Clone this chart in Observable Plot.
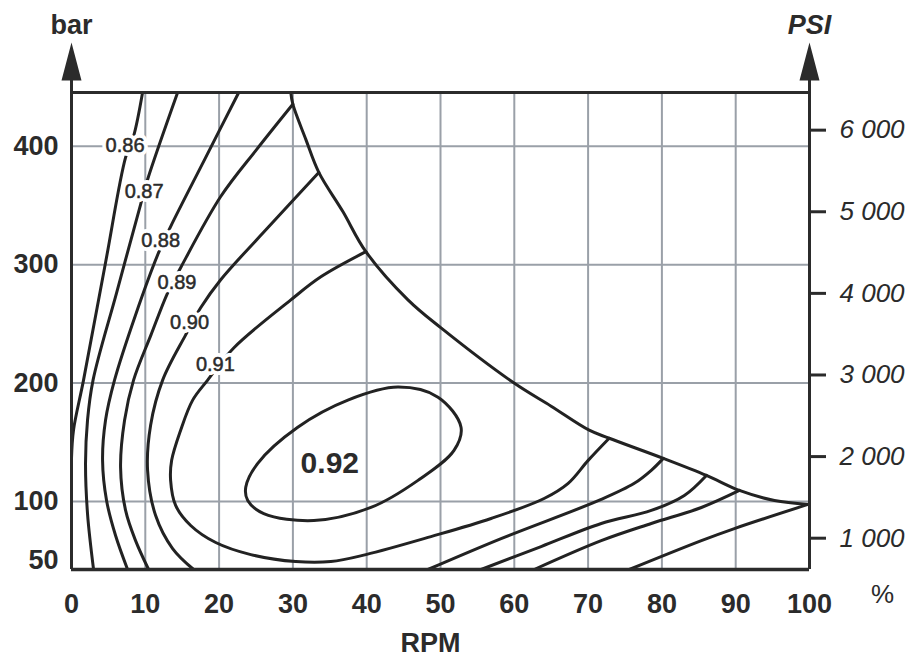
<!DOCTYPE html>
<html>
<head>
<meta charset="utf-8">
<script src="https://cdn.jsdelivr.net/npm/d3@7"></script>
<script src="https://cdn.jsdelivr.net/npm/@observablehq/plot@0.6"></script>
<style>
  html, body { margin: 0; padding: 0; background: #fff; }
</style>
</head>
<body>
<div id="chart"></div>
<script>
// ---------- axes / ticks ----------
const rpmDomain = [0, 100];
const barDomain = [42.5, 445.5];
const rpmTicks = [0, 10, 20, 30, 40, 50, 60, 70, 80, 90, 100];
const rpmGrid = [10, 20, 30, 40, 50, 60, 70, 80, 90];
const barTicks = [50, 100, 200, 300, 400];
const barGrid = [100, 200, 300, 400];
const PSI_PER_BAR = 14.5038;
const psiTicks = [1000, 2000, 3000, 4000, 5000, 6000];
const psiTickLabels = ["1 000", "2 000", "3 000", "4 000", "5 000", "6 000"];

// ---------- efficiency contours: [rpm %, bar] ----------
const c086 = [[9.63,445.5],[8.41,408.5],[7.33,390.7],[4.61,301.7],[1.63,202.5],[0.27,160.2],[0,136.4]];
const c087 = [[14.38,445.5],[10.31,372.0],[9.36,350.8],[6.11,276.3],[2.92,202.5],[2.17,168.6],[1.90,132.2],[2.17,89.8],[2.99,42.5]];
const c088 = [[22.66,445.5],[18.05,389.0],[13.43,332.2],[11.80,310.2],[8.68,257.6],[5.83,202.5],[4.61,168.6],[4.21,134.7],[4.75,100.8],[5.97,71.2],[7.60,42.5]];
const c089 = [[29.99,435.6],[25.10,397.5],[20.22,357.6],[14.79,297.5],[13.03,276.3],[10.77,240.7],[8.41,202.5],[7.19,168.6],[6.65,128.8],[7.33,92.4],[8.68,66.9],[10.45,42.5]];
const c090 = [[33.51,378.0],[27.00,333.9],[20.22,287.3],[17.50,263.6],[15.47,240.7],[12.35,202.5],[10.72,164.4],[10.31,126.3],[11.40,88.1],[13.70,60.2],[16.55,42.5]];
const c091 = [[39.89,311.0],[33.79,289.8],[29.72,270.3],[21.98,229.7],[18.45,202.5],[16.42,185.6],[14.79,160.2],[13.57,134.7],[13.43,117.8],[14.11,96.6],[16.15,79.7],[19.54,65.3],[24.29,55.1],[30.39,49.2],[35.14,49.2],[39.89,55.1],[48.71,70.3],[56.85,85.6],[64.04,102.5],[67.30,115.3],[70.01,134.7],[72.86,153.4]];
const c092 = [[23.61,111.9],[25.24,132.2],[30.66,162.7],[37.45,185.6],[44.23,196.6],[49.66,188.1],[52.78,162.7],[51.83,143.2],[46.95,117.8],[40.57,94.9],[32.84,83.9],[26.05,89.8],[23.88,100.8]];
// high-speed branches ending on the limit curve
const c090b = [[48.30,42.5],[58.21,68.6],[71.78,101.7],[76.26,115.3],[78.56,126.3],[80.19,136.4]];
const c089b = [[55.50,42.5],[63.63,61.9],[71.78,81.4],[78.56,92.4],[83.04,105.1],[86.03,122.0]];
const c088b = [[62.69,42.5],[71.78,66.9],[78.56,81.4],[85.35,94.9],[90.50,109.3]];
const c087b = [[75.58,42.5],[85.35,66.9],[89.82,77.1],[99.8,97.5]];
// operating limit (envelope)
const envelope = [[29.72,445.5],[29.99,435.6],[31.75,405.9],[33.51,378.0],[36.77,344.9],[39.89,311.0],[45.59,270.3],[50.07,246.6],[59.97,200.0],[64.99,180.5],[70.15,160.2],[72.86,153.4],[80.19,136.4],[86.03,122.0],[90.50,109.3],[95.25,100.8],[99.8,97.5]];

// contour labels
const labelText = ["0.86", "0.87", "0.88", "0.89", "0.90", "0.91"];
const labelRpm  = [7.26, 9.84, 12.08, 14.30, 16.00, 19.50];
const labelBar  = [400.4, 361.4, 320.5, 285.2, 251.3, 215.7];
const peakText = ["0.92"];
const peakRpm = [35.0];
const peakBar = [132.2];

// ---------- styling ----------
const ink = "#2b2b2b";
const lineInk = "#222";
const gridInk = "#9aa0a8";
const font = "'Liberation Sans', Arial, Helvetica, sans-serif";

const labels = labelText.map((t, i) => ({t, x: labelRpm[i], y: labelBar[i]}));
const peak = peakText.map((t, i) => ({t, x: peakRpm[i], y: peakBar[i]}));

const arrowShape = {
  draw(ctx, l, r) {
    ctx.moveTo(-1.5, 0);
    ctx.lineTo(-1.5, -12);
    ctx.lineTo(-r, -12);
    ctx.lineTo(0, -l);
    ctx.lineTo(r, -12);
    ctx.lineTo(1.5, -12);
    ctx.lineTo(1.5, 0);
    ctx.closePath();
  }
};

const contourOpts = {stroke: lineInk, strokeWidth: 3, curve: "catmull-rom"};

const chart = Plot.plot({
  width: 917,
  height: 660,
  marginLeft: 71,
  marginRight: 108,
  marginTop: 92,
  marginBottom: 91,
  style: {fontFamily: font, color: ink, background: "white", overflow: "visible"},
  x: {domain: rpmDomain},
  y: {domain: barDomain},
  marks: [
    Plot.ruleX(rpmGrid, {stroke: gridInk, strokeWidth: 2}),
    Plot.ruleY(barGrid, {stroke: gridInk, strokeWidth: 2}),

    Plot.line(c086, contourOpts),
    Plot.line(c087, contourOpts),
    Plot.line(c088, contourOpts),
    Plot.line(c089, contourOpts),
    Plot.line(c090, contourOpts),
    Plot.line(c091, contourOpts),
    Plot.line(c092, {...contourOpts, curve: "catmull-rom-closed"}),
    Plot.line(c090b, contourOpts),
    Plot.line(c089b, contourOpts),
    Plot.line(c088b, contourOpts),
    Plot.line(c087b, contourOpts),
    Plot.line(envelope, contourOpts),

    // contour labels: white halo, then text
    Plot.text(labels, {x: "x", y: "y", text: "t", fontSize: 20, fill: "white", stroke: "white", strokeWidth: 8, fontFamily: font}),
    Plot.text(labels, {x: "x", y: "y", text: "t", fontSize: 20, fill: ink, stroke: ink, strokeWidth: 0.5, fontFamily: font}),
    Plot.text(peak, {x: "x", y: "y", text: "t", fontSize: 30, fontWeight: "bold", fill: ink, fontFamily: font}),

    // frame
    Plot.ruleY([barDomain[1]], {stroke: ink, strokeWidth: 3}),
    Plot.ruleY([barDomain[0]], {stroke: ink, strokeWidth: 3.5}),
    Plot.ruleX([rpmDomain[0]], {stroke: ink, strokeWidth: 3}),
    Plot.ruleX([rpmDomain[1]], {stroke: ink, strokeWidth: 3}),

    // axis arrows
    Plot.vector([rpmDomain[0], rpmDomain[1]], {x: d => d, y: () => barDomain[1], length: 50, r: 10, rotate: 0, anchor: "start", shape: arrowShape, fill: ink, stroke: "none"}),

    // axes
    Plot.axisX(rpmTicks, {anchor: "bottom", tickSize: 0, tickPadding: 24, fontSize: 27, fontWeight: "bold", label: null}),
    Plot.axisY(barTicks, {anchor: "left", tickSize: 0, tickPadding: 13, fontSize: 27, fontWeight: "bold", label: null}),
    Plot.axisY(psiTicks.map(p => p / PSI_PER_BAR), {
      anchor: "right", tickSize: 16, tickPadding: 14, strokeWidth: 3, stroke: ink,
      fontSize: 26, fontStyle: "italic", label: null,
      tickFormat: d => psiTickLabels[psiTicks.indexOf(Math.round(d * PSI_PER_BAR / 1000) * 1000)]
    }),

    // titles
    Plot.text(["bar"], {frameAnchor: "top-left", dy: -59, lineAnchor: "bottom", textAnchor: "middle", fontSize: 27, fontWeight: "bold", fill: ink}),
    Plot.text(["PSI"], {frameAnchor: "top-right", dy: -59, lineAnchor: "bottom", textAnchor: "middle", fontSize: 27, fontWeight: "bold", fontStyle: "italic", fill: ink}),
    Plot.text(["%"], {frameAnchor: "bottom-right", dx: 73, dy: 33, lineAnchor: "bottom", textAnchor: "middle", fontSize: 26, fill: ink}),
    Plot.text(["RPM"], {frameAnchor: "bottom", dx: -10, dy: 82, lineAnchor: "bottom", textAnchor: "middle", fontSize: 27, fontWeight: "bold", fill: ink})
  ]
});

document.getElementById("chart").appendChild(chart);
</script>
</body>
</html>
